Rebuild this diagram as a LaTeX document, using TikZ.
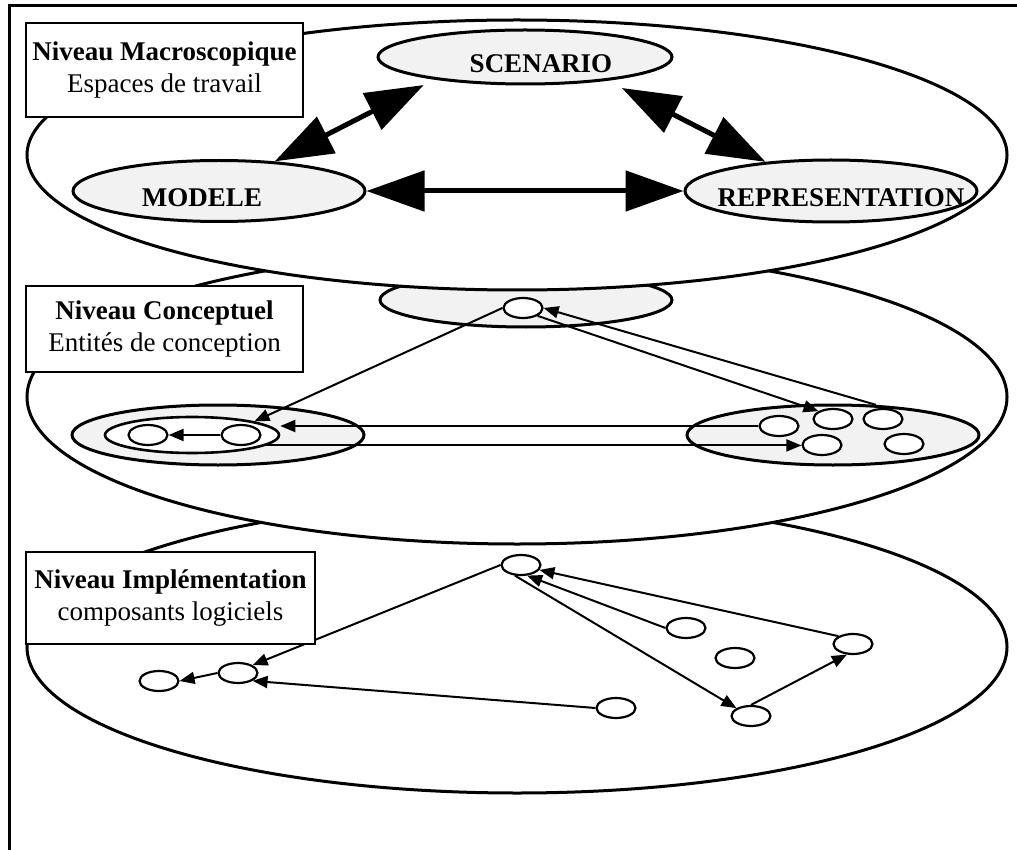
\documentclass[tikz,border=0pt]{standalone}
\usepackage{fontspec}
\setmainfont{Liberation Serif}
\usepackage{tikz}
\usetikzlibrary{arrows.meta,shapes.geometric}
\definecolor{pale}{HTML}{F2F2F2}
\tikzset{
  plane/.style={draw,ellipse,line width=3pt,fill=white,minimum width=980pt,inner sep=0pt},
  proj/.style={draw,ellipse,line width=3pt,fill=pale,minimum width=292pt,inner sep=0pt},
  ent/.style={draw,ellipse,line width=2.2pt,fill=white,minimum width=39pt,minimum height=20pt,inner sep=0pt},
  lvl/.style={draw,line width=2.5pt,fill=white,align=center,inner sep=0pt,font=\fontsize{27}{32}\selectfont},
  ttl/.style={inner sep=0pt,anchor=base,font=\fontsize{27}{32}\selectfont\bfseries},
  big/.style={line width=5pt,{Triangle[length=58pt,width=40pt]}-{Triangle[length=58pt,width=40pt]}},
  arr/.style={line width=2pt,-{Triangle[length=15pt,width=12pt]}},
}
\begin{document}
\begin{tikzpicture}[x=1pt,y=-1pt]
 \useasboundingbox (0,0) rectangle (1017,850);
 \draw[line width=3pt] (1017,6) -- (9,6) -- (9,850);
 % niveau implementation
 \node[plane,minimum height=292pt] (pl3) at (517,647) {};
 \node[ent] (c1) at (521,565) {};
 \node[ent] (c2) at (686,628) {};
 \node[ent] (c3) at (735,658) {};
 \node[ent] (c4) at (853,644) {};
 \node[ent] (c5) at (751,716) {};
 \node[ent] (c6) at (616,708) {};
 \node[ent] (c7) at (238,673) {};
 \node[ent] (c8) at (159,681) {};
 \draw[arr] (c1.west) -- (c7.north east);
 \draw[arr] (c7.west) -- (c8.east);
 \draw[arr] (c6.west) -- (c7.south east);
 \draw[arr] (c2.west) -- (c1.-60);
 \draw[arr] (c4.north west) -- (c1.-15);
 \draw[arr] (c1.-120) -- (c5.north west);
 \draw[arr] (c5.north) -- (c4.-120);
 % niveau conceptuel
 \node[plane,minimum height=294pt] (pl2) at (517,397) {};
 \node[proj,minimum height=54pt] (scP) at (526,300) {};
 \node[ent] (sc) at (523,308) {};
 \node[proj,minimum height=60pt] (moP) at (218,435) {};
 \node[draw,ellipse,line width=2.6pt,fill=white,minimum width=174pt,minimum height=36pt,inner sep=0pt] (inM) at (192,435) {};
 \node[ent] (mo1) at (148,435) {};
 \node[ent] (mo2) at (241,435) {};
 \node[proj,minimum height=60pt] (rpP) at (833,435) {};
 \node[ent] (rp1) at (779,426) {};
 \node[ent] (rp2) at (833,419) {};
 \node[ent] (rp3) at (883,419) {};
 \node[ent] (rp4) at (822,445) {};
 \node[ent] (rp5) at (904,444) {};
 \draw[arr] (mo2.west) -- (mo1.east);
 \draw[arr] (sc.west) -- (inM.north east);
 \draw[arr] (sc.south east) -- (rp2.north west);
 \draw[arr] (rpP.35) -- (sc.east);
 \draw[arr] (rp1.west) -- (rp1.west -| inM.east);
 \draw[arr] (inM.-8) -- (inM.-8 -| rp4.west);
 % niveau macroscopique
 \node[plane,minimum height=270pt] (pl1) at (517,155) {};
 \node[proj,minimum width=294pt,minimum height=54pt] (sce) at (525,57) {};
 \node[proj,minimum height=61pt] (mod) at (219,191) {};
 \node[proj,minimum height=62pt] (rep) at (831,191) {};
 \node[ttl] (sceT) at (541,73) {SCENARIO};
 \node[ttl] (modT) at (202,207) {MODELE};
 \node[ttl] (repT) at (841,207) {REPRESENTATION};
 \draw[big,shorten >=12pt] (mod.28) -- (sce.-166);
 \draw[big,shorten <=16pt] (sce.-16) -- (rep.156);
 \draw[big] (mod.east) -- (rep.west);
 % etiquettes
 \node[lvl,minimum width=277pt,minimum height=94pt] (lv1) at (164.5,70) {\textbf{Niveau Macroscopique}\\Espaces de travail};
 \node[lvl,minimum width=277pt,minimum height=86pt] (lv2) at (164.5,329) {\textbf{Niveau Conceptuel}\\Entités de conception};
 \node[lvl,minimum width=289pt,minimum height=92pt] (lv3) at (170.5,598) {\textbf{Niveau Implémentation}\\composants logiciels};
\end{tikzpicture}
\end{document}
